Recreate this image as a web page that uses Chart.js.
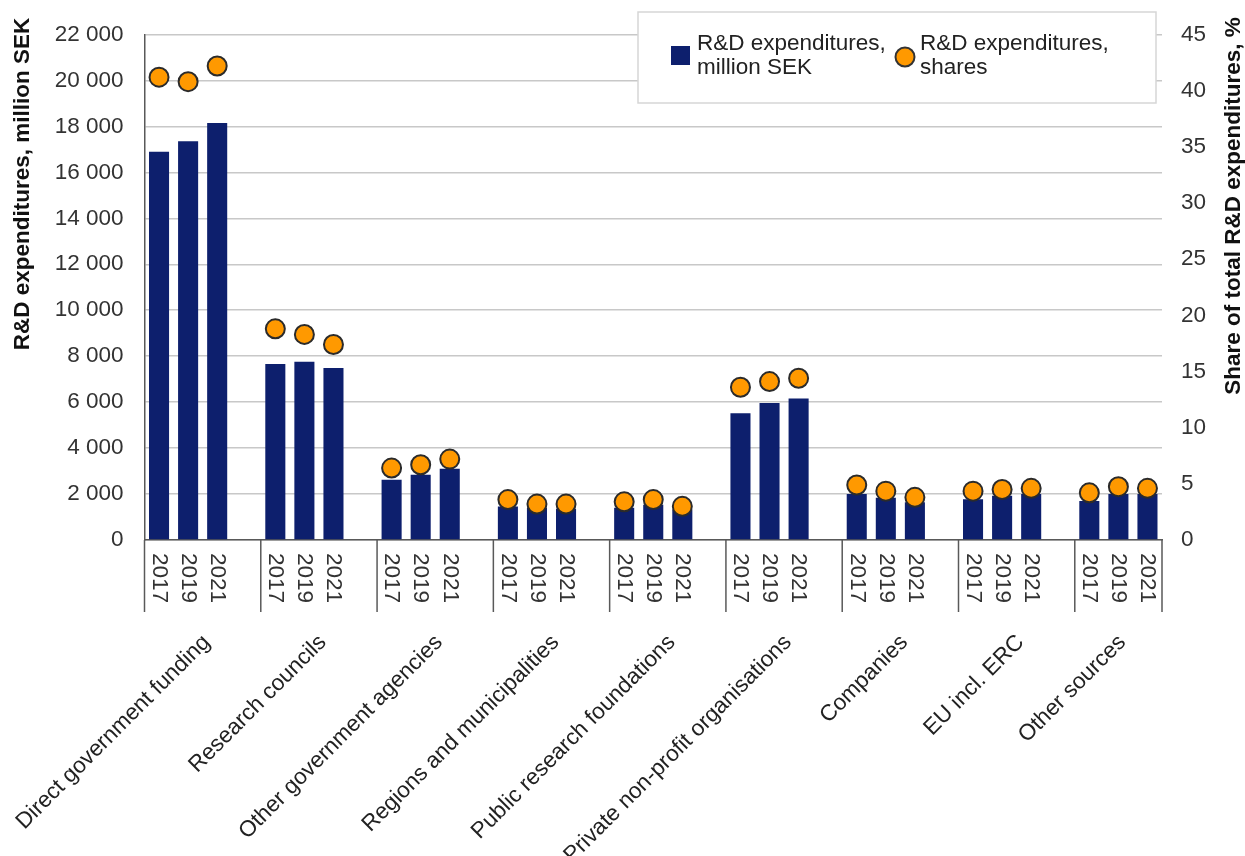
<!DOCTYPE html>
<html>
<head>
<meta charset="utf-8">
<script src="https://cdn.jsdelivr.net/npm/chart.js@4.4.1/dist/chart.umd.min.js"></script>
<style>
  html, body { margin: 0; padding: 0; background: #fff; }
</style>
</head>
<body>
<canvas id="myChart" width="1245" height="856"></canvas>
<script>
const groups = [
  "Direct government funding",
  "Research councils",
  "Other government agencies",
  "Regions and municipalities",
  "Public research foundations",
  "Private non-profit organisations",
  "Companies",
  "EU incl. ERC",
  "Other sources",
];
const years = ["2017", "2019", "2021"];

// million SEK, one row per group, columns = years
const expenditure = [
  [16900, 17350, 18150],
  [7660, 7760, 7490],
  [2620, 2840, 3100],
  [1460, 1400, 1360],
  [1400, 1530, 1330],
  [5520, 5960, 6160],
  [2000, 1840, 1640],
  [1770, 1930, 2000],
  [1700, 2000, 2000],
];
// share of total, %
const shares = [
  [41.2, 40.8, 42.2],
  [18.8, 18.3, 17.4],
  [6.4, 6.7, 7.2],
  [3.6, 3.2, 3.2],
  [3.4, 3.6, 3.0],
  [13.6, 14.1, 14.4],
  [4.9, 4.35, 3.8],
  [4.35, 4.5, 4.6],
  [4.2, 4.75, 4.6],
];

const leftMax = 22000, leftStep = 2000;
const rightMax = 45, rightStep = 5;

const FONT = "'Liberation Sans', Arial, sans-serif";
const SIZE = 22.5;
Chart.defaults.font.family = FONT;

// flatten: 3 years per group, a blank slot between groups
const labels = [];
const barData = [];
const dotData = [];
const groupStart = [];
groups.forEach((g, gi) => {
  groupStart.push(labels.length);
  years.forEach((y, yi) => {
    labels.push(y);
    barData.push(expenditure[gi][yi]);
    dotData.push(shares[gi][yi]);
  });
  if (gi < groups.length - 1) {
    labels.push("");
    barData.push(null);
    dotData.push(null);
  }
});

function spaced(v) {
  return String(v).replace(/\B(?=(\d{3})+(?!\d))/g, " ");
}

const axisText = {
  id: "axisText",
  afterDraw(chart) {
    const ctx = chart.ctx;
    const x = chart.scales.x;
    const area = chart.chartArea;
    const half = (x.getPixelForValue(1) - x.getPixelForValue(0)) / 2;
    const edges = groupStart.map((i) => x.getPixelForValue(i) - half).concat([area.right]);
    ctx.save();

    // group dividers below the axis
    ctx.strokeStyle = "#595959";
    ctx.lineWidth = 1.5;
    edges.forEach((px) => {
      ctx.beginPath();
      ctx.moveTo(px, area.bottom);
      ctx.lineTo(px, area.bottom + 72);
      ctx.stroke();
    });

    // years, rotated clockwise
    ctx.fillStyle = "#333";
    ctx.font = SIZE + "px " + FONT;
    labels.forEach((lab, i) => {
      if (!lab) return;
      ctx.save();
      ctx.translate(x.getPixelForValue(i), area.bottom + 13);
      ctx.rotate(Math.PI / 2);
      ctx.textAlign = "left";
      ctx.textBaseline = "middle";
      ctx.fillText(lab, 0, 0);
      ctx.restore();
    });

    // group names at 45 degrees
    ctx.fillStyle = "#222";
    groups.forEach((g, gi) => {
      const cx = (edges[gi] + edges[gi + 1]) / 2 - 4;
      ctx.save();
      ctx.translate(cx, area.bottom + 91);
      ctx.rotate(-Math.PI / 4);
      ctx.textAlign = "right";
      ctx.textBaseline = "top";
      ctx.fillText(g, 0, 0);
      ctx.restore();
    });

    // axis titles
    ctx.font = "bold " + SIZE + "px " + FONT;
    ctx.fillStyle = "#111";
    ctx.textAlign = "center";
    ctx.textBaseline = "middle";
    ctx.save();
    ctx.translate(23, 184);
    ctx.rotate(-Math.PI / 2);
    ctx.fillText("R&D expenditures, million SEK", 0, 0);
    ctx.restore();
    ctx.save();
    ctx.translate(1234, 206);
    ctx.rotate(-Math.PI / 2);
    ctx.fillText("Share of total R&D expenditures, %", 0, 0);
    ctx.restore();

    // legend box
    ctx.fillStyle = "#fff";
    ctx.fillRect(638, 12, 518, 91);
    ctx.strokeStyle = "#d6d6d6";
    ctx.lineWidth = 1.5;
    ctx.strokeRect(638, 12, 518, 91);
    ctx.fillStyle = "#0d1f6d";
    ctx.fillRect(671, 46, 19, 19);
    ctx.beginPath();
    ctx.arc(905, 57, 9.5, 0, Math.PI * 2);
    ctx.fillStyle = "#ff9900";
    ctx.fill();
    ctx.strokeStyle = "#333";
    ctx.lineWidth = 2;
    ctx.stroke();
    ctx.fillStyle = "#222";
    ctx.font = SIZE + "px " + FONT;
    ctx.textAlign = "left";
    ctx.textBaseline = "alphabetic";
    ctx.fillText("R&D expenditures,", 697, 50);
    ctx.fillText("million SEK", 697, 74);
    ctx.fillText("R&D expenditures,", 920, 50);
    ctx.fillText("shares", 920, 74);

    ctx.restore();
  },
};

const ctx = document.getElementById("myChart");
const myChart = new Chart(ctx, {
  type: "bar",
  data: {
    labels: labels,
    datasets: [
      {
        type: "line",
        label: "R&D expenditures, shares",
        data: dotData,
        yAxisID: "y1",
        showLine: false,
        pointRadius: 9.5,
        pointHoverRadius: 9.5,
        pointBackgroundColor: "#ff9900",
        pointBorderColor: "#2b2b2b",
        pointBorderWidth: 2,
        order: 0,
      },
      {
        label: "R&D expenditures, million SEK",
        data: barData,
        yAxisID: "y",
        backgroundColor: "#0d1f6d",
        categoryPercentage: 1,
        barPercentage: 0.69,
        order: 1,
      },
    ],
  },
  options: {
    responsive: false,
    animation: false,
    layout: { padding: { top: 26, left: 0, right: 0, bottom: 0 } },
    plugins: {
      legend: { display: false },
      tooltip: { enabled: false },
    },
    scales: {
      x: {
        ticks: { display: false },
        grid: { display: false },
        border: { color: "#595959", width: 1.5 },
        afterFit: (s) => { s.height = 316; },
      },
      y: {
        position: "left",
        min: 0,
        max: leftMax,
        ticks: {
          stepSize: leftStep,
          padding: 21,
          color: "#333",
          font: { size: SIZE },
          callback: (v) => spaced(v),
        },
        grid: { color: "#c8c8c8", lineWidth: 1.5, drawTicks: false },
        border: { color: "#595959", width: 1.5 },
        afterFit: (s) => { s.width = 144.5; },
      },
      y1: {
        position: "right",
        min: 0,
        max: rightMax,
        ticks: {
          stepSize: rightStep,
          padding: 19,
          color: "#333",
          font: { size: SIZE },
        },
        grid: { display: false, drawTicks: false },
        border: { display: false },
        afterFit: (s) => { s.width = 83; },
      },
    },
  },
  plugins: [axisText],
});
</script>
</body>
</html>
